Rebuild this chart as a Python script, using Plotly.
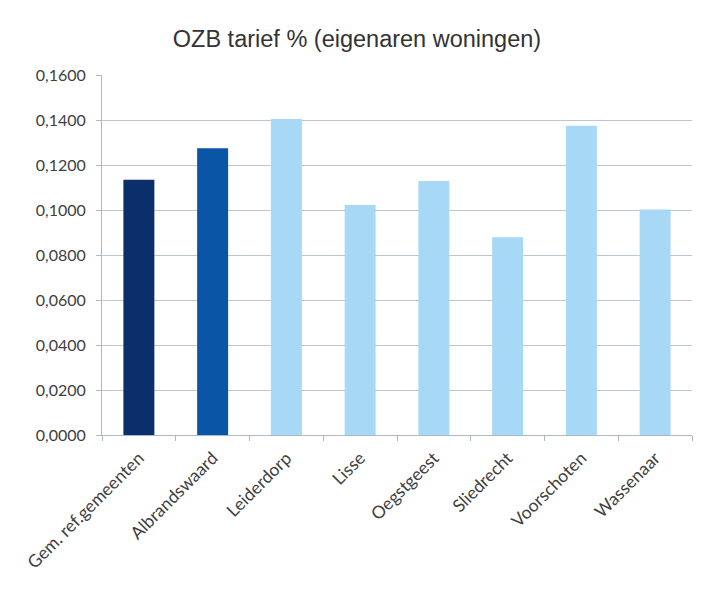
import plotly.graph_objects as go

categories = ["Gem. ref.gemeenten", "Albrandswaard", "Leiderdorp", "Lisse",
              "Oegstgeest", "Sliedrecht", "Voorschoten", "Wassenaar"]
values = [0.1135, 0.1275, 0.1404, 0.1022, 0.1129, 0.0879, 0.1375, 0.1002]
colors = ["#0b2f6b", "#0a55a5", "#a7d8f6", "#a7d8f6", "#a7d8f6", "#a7d8f6", "#a7d8f6", "#a7d8f6"]
y_ticks = [0, 0.02, 0.04, 0.06, 0.08, 0.10, 0.12, 0.14, 0.16]

fig = go.Figure(go.Bar(x=categories, y=values, marker=dict(color=colors, line=dict(width=0)),
                       width=0.42))

fig.update_layout(
    width=705, height=590,
    margin=dict(l=94, r=21, t=67, b=163),
    paper_bgcolor="white", plot_bgcolor="white",
    separators=",.",
    font=dict(family="Lato, Open Sans, sans-serif", color="#404040", size=13),
    title=dict(text="OZB tarief % (eigenaren woningen)", x=0.495, xanchor="center",
               y=0.948, yanchor="middle",
               font=dict(family="Liberation Sans, Arial, sans-serif", size=23.5, color="#333333")),
    showlegend=False,
)
fig.update_xaxes(tickangle=-45, showline=True, linecolor="#a9b8cc", linewidth=1,
                 ticks="outside", tickson="boundaries", ticklen=5, tickcolor="#a9b8cc",
                 ticklabelstandoff=5,
                 showgrid=False, tickfont=dict(size=17.5, color="#404040"))
fig.update_yaxes(range=[0, 0.16], tickvals=y_ticks, tickformat=".4f",
                 showline=True, linecolor="#a9b8cc", linewidth=1,
                 ticks="outside", ticklen=5, tickcolor="#a9b8cc",
                 ticklabelstandoff=7,
                 gridcolor="#bcc7d6", gridwidth=1, zeroline=False,
                 tickfont=dict(size=16, color="#404040"))

fig.write_html("out.html")
